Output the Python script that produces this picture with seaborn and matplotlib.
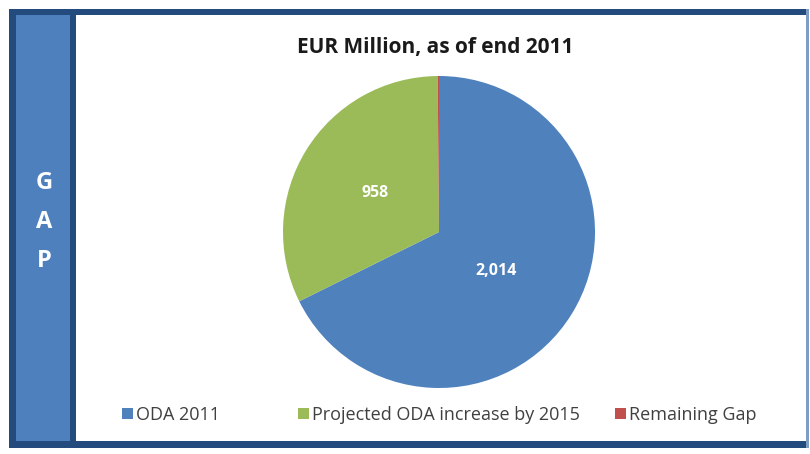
import matplotlib
matplotlib.use("Agg")
import matplotlib.pyplot as plt
import seaborn as sns
from matplotlib.patches import Rectangle

sns.set_theme(style="white")
plt.rcParams['font.family'] = ['Open Sans', 'DejaVu Sans']

categories = ["ODA 2011", "Projected ODA increase by 2015", "Remaining Gap"]
values = [2014, 958, 4]
value_labels = ["2,014", "958", ""]
title = "EUR Million, as of end 2011"
side_letters = ["G", "A", "P"]

colors = ["#4F81BD", "#9BBB59", "#C0504D"]

W, H = 810, 454
fig = plt.figure(figsize=(W / 100, H / 100), dpi=100)
fig.patch.set_facecolor("white")

def px_rect(x0, y0, x1, y1, color, z=0):
    r = Rectangle((x0 / W, 1 - y1 / H), (x1 - x0) / W, (y1 - y0) / H,
                  transform=fig.transFigure, facecolor=color, edgecolor="none", zorder=z)
    fig.patches.append(r)

dark = "#234B7E"
# outer frame
px_rect(9, 9, 809, 15, dark)          # top
px_rect(9, 441, 809, 448, dark)       # bottom
px_rect(9, 9, 16, 448, dark)          # left
px_rect(806, 9, 809, 448, "#7F9CC2")  # right (faint)
# left panel
px_rect(16, 15, 70, 441, "#4F80BE")
px_rect(70, 15, 76, 441, dark)

letter_y = [183, 222, 261]
for letter, ly in zip(side_letters, letter_y):
    fig.text(44 / W, 1 - ly / H, letter, color="white",
             fontsize=17, fontweight="bold", ha="center", va="center")

# pie axes
cx, cy, r = 439, 232, 156
ax = fig.add_axes([(cx - r) / W, (H - cy - r) / H, 2 * r / W, 2 * r / H])
wedges, _ = ax.pie(values, colors=colors, startangle=90, counterclock=False,
                   radius=1.0, wedgeprops=dict(linewidth=0))
ax.set_xlim(-1, 1)
ax.set_ylim(-1, 1)
ax.set_aspect("equal")
ax.axis("off")

# value labels
label_pos = [(496, 271), (375, 193)]
for (lx, ly), txt in zip(label_pos, value_labels[:2]):
    fig.text(lx / W, 1 - ly / H, txt, color="white", fontsize=11.5,
             fontweight="bold", ha="center", va="center")

fig.text(435 / W, 1 - 47 / H, title, color="#1a1a1a", fontsize=15,
         fontweight="bold", ha="center", va="center")

# legend entries (one per category, positioned individually)
leg_x = [122, 298, 615]
for cat, col, lx in zip(categories, colors, leg_x):
    h = Rectangle((0, 0), 1, 1, facecolor=col, edgecolor="none")
    leg = fig.legend([h], [cat], loc="center left", bbox_to_anchor=(lx / W, 1 - 415 / H),
                     frameon=False, fontsize=13, handlelength=0.6, handleheight=0.6,
                     handletextpad=0.15, borderpad=0, borderaxespad=0)
    for t in leg.get_texts():
        t.set_color("#404040")

fig.savefig("out.png", dpi=100, facecolor="white")
